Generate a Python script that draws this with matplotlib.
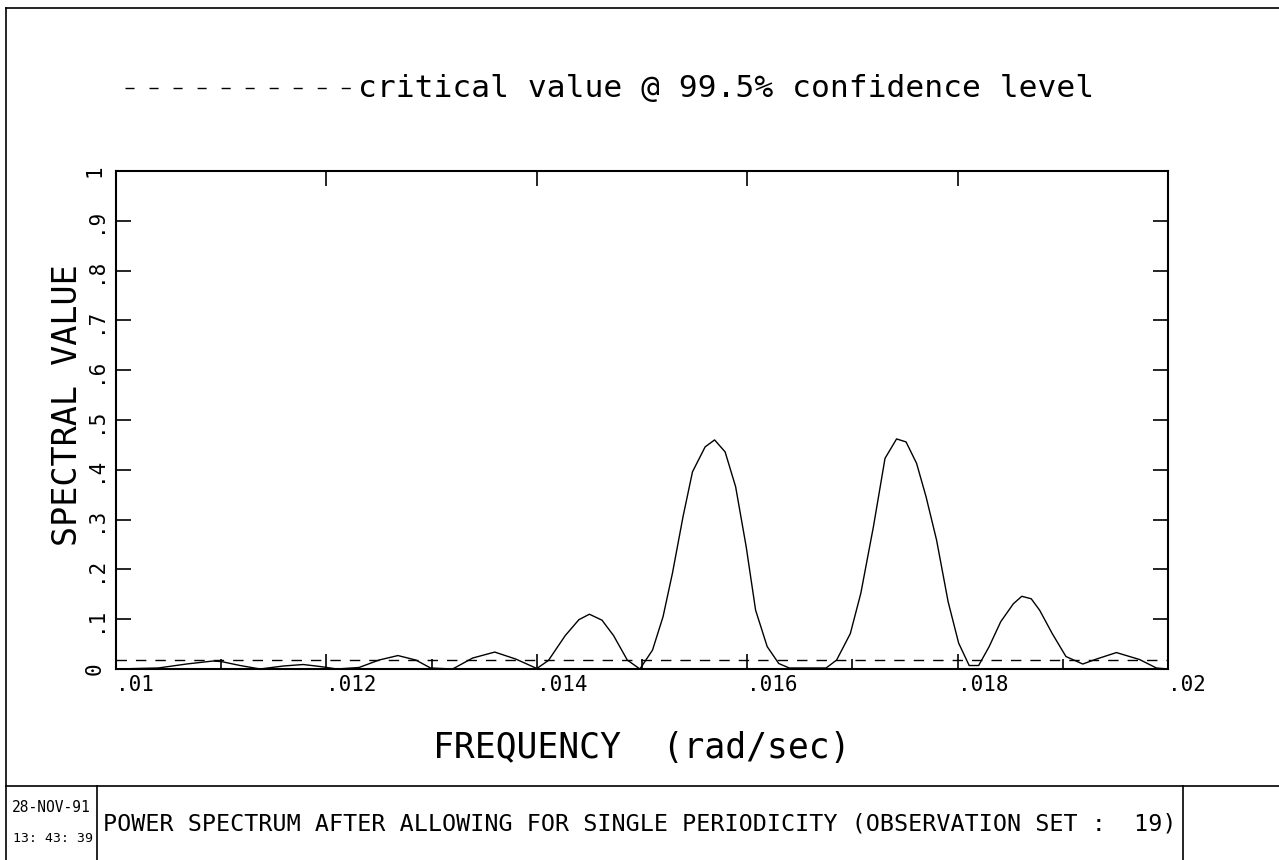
import numpy as np
import matplotlib
matplotlib.use('Agg')
import matplotlib.pyplot as plt
from matplotlib.lines import Line2D

W, H = 1279, 860

# spectrum (frequency in rad/sec)
freq = [0.01000, 0.01040, 0.01067, 0.01092, 0.01100, 0.01118, 0.01137, 0.01159,
        0.01178, 0.01194, 0.01210, 0.01231, 0.01250, 0.01268, 0.01285, 0.01299,
        0.01320, 0.01339, 0.01360, 0.01380, 0.01400, 0.01411, 0.01427, 0.01440,
        0.01450, 0.01462, 0.01473, 0.01486, 0.01498, 0.01510, 0.01520, 0.01529,
        0.01539, 0.01548, 0.01560, 0.01569, 0.01579, 0.01589, 0.01599, 0.01608,
        0.01619, 0.01630, 0.01640, 0.01675, 0.01685, 0.01698, 0.01708, 0.01720,
        0.01731, 0.01742, 0.01751, 0.01761, 0.01770, 0.01780, 0.01791, 0.01801,
        0.01811, 0.01820, 0.01830, 0.01841, 0.01853, 0.01861, 0.01870, 0.01878,
        0.01890, 0.01903, 0.01919, 0.01932, 0.01951, 0.01973, 0.01989, 0.02000]
power = [0.000, 0.002, 0.010, 0.016, 0.015, 0.007, 0.000, 0.006,
         0.009, 0.005, 0.000, 0.003, 0.018, 0.027, 0.018, 0.002,
         0.000, 0.022, 0.034, 0.020, 0.001, 0.017, 0.067, 0.099,
         0.110, 0.098, 0.067, 0.018, 0.000, 0.038, 0.105, 0.193,
         0.306, 0.396, 0.446, 0.460, 0.436, 0.366, 0.246, 0.118,
         0.045, 0.011, 0.002, 0.002, 0.018, 0.071, 0.152, 0.286,
         0.423, 0.462, 0.456, 0.413, 0.346, 0.259, 0.135, 0.052,
         0.007, 0.007, 0.045, 0.095, 0.131, 0.146, 0.141, 0.118,
         0.071, 0.025, 0.010, 0.020, 0.033, 0.019, 0.002, 0.000]
critical = 0.018

xticks = [0.010, 0.012, 0.014, 0.016, 0.018, 0.020]
xticklabels = ['.01', '.012', '.014', '.016', '.018', '.02']
xminor = [0.011, 0.013, 0.015, 0.017, 0.019]
yticks = [0.0, 0.1, 0.2, 0.3, 0.4, 0.5, 0.6, 0.7, 0.8, 0.9, 1.0]
yticklabels = ['0', '.1', '.2', '.3', '.4', '.5', '.6', '.7', '.8', '.9', '1']

MONO = 'DejaVu Sans Mono'
plt.rcParams['font.family'] = MONO


def fx(x):
    return x / W


def fy(y):
    return 1 - y / H


fig = plt.figure(figsize=(W / 100, H / 100), dpi=100)
fig.patch.set_facecolor('white')

ax = fig.add_axes([fx(116), fy(669), (1168 - 116) / W, (669 - 171) / H])
ax.plot(freq, power, color='black', lw=1.0)
ax.axhline(critical, color='black', lw=1.0, dashes=(7.5, 6.5))

ax.set_xlim(0.01, 0.02)
ax.set_ylim(0, 1)
for s in ax.spines.values():
    s.set_linewidth(1.5)

ax.set_xticks(xticks)
ax.set_xticklabels(xticklabels, fontsize=15, ha='left')
ax.set_xticks(xminor, minor=True)
ax.tick_params(axis='x', which='major', direction='in', length=11, width=1.2,
               top=True, pad=4)
ax.tick_params(axis='x', which='minor', direction='in', length=7, width=1.2,
               top=False)

ax.set_yticks(yticks)
ax.set_yticklabels(yticklabels, fontsize=15, rotation=90, va='center')
ax.tick_params(axis='y', direction='in', length=11, width=1.2, right=True, pad=8)

ax.set_xlabel('FREQUENCY  (rad/sec)', fontsize=25, va='center')
ax.xaxis.set_label_coords(0.5, (669 - 748) / 498)
ax.set_ylabel('SPECTRAL VALUE', fontsize=24, va='center', ha='center')
ax.yaxis.set_label_coords((68 - 116) / 1052, 0.53)

# legend line for the critical value
fig.add_artist(Line2D([fx(125), fx(352)], [fy(88), fy(88)], transform=fig.transFigure,
                      color='black', lw=1.0, dashes=(6.5, 10.8)))
fig.text(fx(358), fy(88), 'critical value @ 99.5% confidence level',
         fontsize=22.5, ha='left', va='center')

# page frame and title block
frame = [((6, 8), (W, 8)), ((6, 8), (6, H)), ((6, 786), (W, 786)),
         ((97, 786), (97, H)), ((1183, 786), (1183, H))]
for (x0, y0), (x1, y1) in frame:
    fig.add_artist(Line2D([fx(x0), fx(x1)], [fy(y0), fy(y1)],
                          transform=fig.transFigure, color='black', lw=1.2))

fig.text(fx(51), fy(808), '28-NOV-91', fontsize=10.5, ha='center', va='center')
fig.text(fx(53), fy(838), '13: 43: 39', fontsize=9.5, ha='center', va='center')
fig.text(fx(103), fy(824),
         'POWER SPECTRUM AFTER ALLOWING FOR SINGLE PERIODICITY (OBSERVATION SET :  19)',
         fontsize=16.8, ha='left', va='center')

fig.savefig('out.png', dpi=100)
